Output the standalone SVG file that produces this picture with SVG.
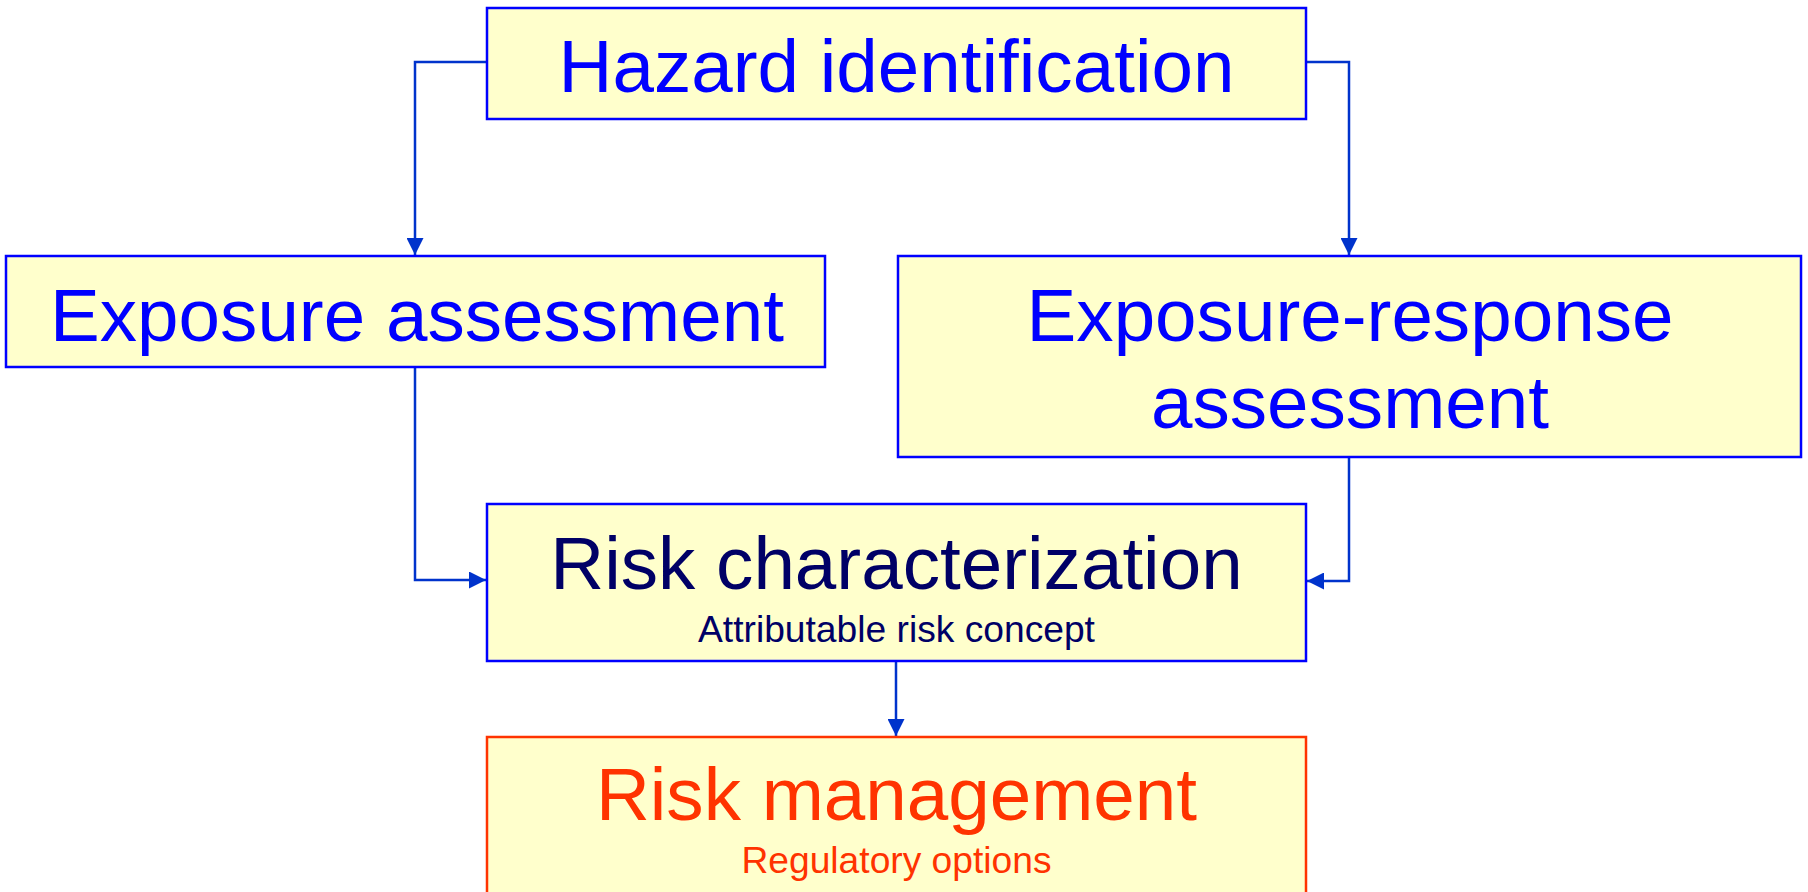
<svg xmlns="http://www.w3.org/2000/svg" width="1808" height="892" viewBox="0 0 1808 892">
<style>
.box{fill:#FFFFCC;stroke:#0000FF;stroke-width:2.5}
.boxr{fill:#FFFFCC;stroke:#FF3300;stroke-width:2.5}
.t{font-family:"Liberation Sans",Arial,sans-serif;text-anchor:middle}
.big{font-size:74.6px}
.small{font-size:37.2px}
.blue{fill:#0000FF}
.navy{fill:#000066}
.red{fill:#FF3300}
.conn{fill:none;stroke:#0033CC;stroke-width:2.5}
</style>
<defs>
<marker id="arr" viewBox="0 0 10 10" refX="10" refY="5" markerWidth="17" markerHeight="17" markerUnits="userSpaceOnUse" orient="auto">
<path d="M0,0 L10,5 L0,10 z" fill="#0033CC"/>
</marker>
</defs>
<rect width="1808" height="892" fill="#FFFFFF"/>
<g id="connectors">
<path class="conn" d="M487,62 H415 V255" marker-end="url(#arr)"/>
<path class="conn" d="M1306,62 H1349 V255" marker-end="url(#arr)"/>
<path class="conn" d="M415,367 V580 H486" marker-end="url(#arr)"/>
<path class="conn" d="M1349,457 V581 H1307" marker-end="url(#arr)"/>
<path class="conn" d="M896,655 V736" marker-end="url(#arr)"/>
</g>
<g id="hazard">
<rect class="box" x="487" y="8" width="819" height="111"/>
<text class="t big blue" x="896.5" y="92">Hazard identification</text>
</g>
<g id="exposure">
<rect class="box" x="6" y="256" width="819" height="111"/>
<text class="t big blue" x="417" y="341">Exposure assessment</text>
</g>
<g id="exposure-response">
<rect class="box" x="898" y="256" width="903" height="201"/>
<text class="t big blue" x="1350" y="341">Exposure-response</text>
<text class="t big blue" x="1350" y="428">assessment</text>
</g>
<g id="risk-char">
<rect class="box" x="487" y="504" width="819" height="157"/>
<text class="t big navy" x="896.5" y="589">Risk characterization</text>
<text class="t small navy" x="896.5" y="642">Attributable risk concept</text>
</g>
<g id="risk-mgmt">
<rect class="boxr" x="487" y="737" width="819" height="170"/>
<text class="t big red" x="896.5" y="820">Risk management</text>
<text class="t small red" x="896.5" y="873">Regulatory options</text>
</g>
</svg>
